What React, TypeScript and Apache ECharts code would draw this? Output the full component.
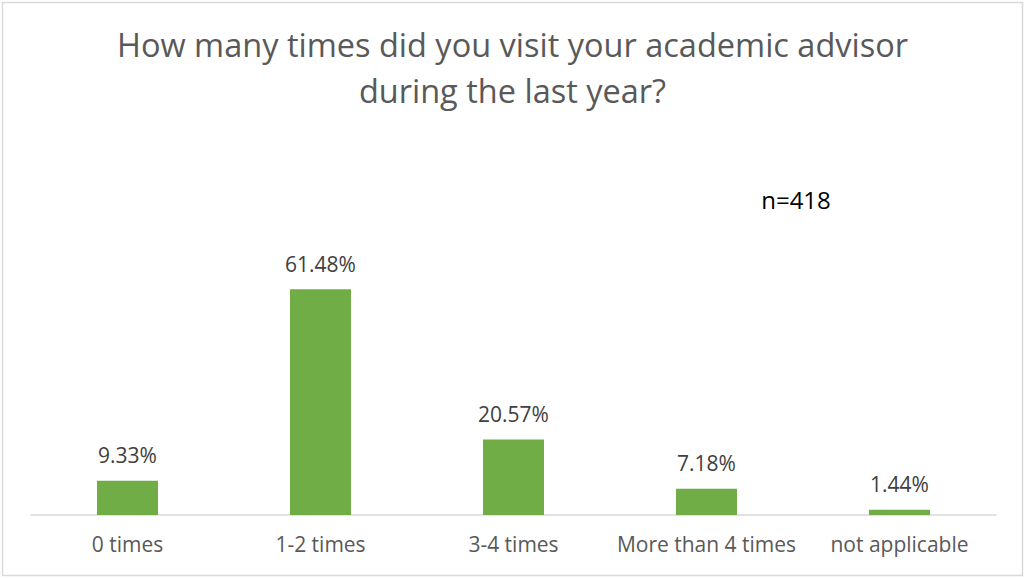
import React, { useEffect, useRef } from "react";
import * as echarts from "echarts";

const categories = ["0 times", "1-2 times", "3-4 times", "More than 4 times", "not applicable"];
const values = [9.33, 61.48, 20.57, 7.18, 1.44];
const titleText = "How many times did you visit your academic advisor\nduring the last year?";
const noteText = "n=418";

const FONT = "Open Sans";

export default function App() {
  const ref = useRef<HTMLDivElement>(null);
  useEffect(() => {
    const chart = echarts.init(ref.current!, null, { renderer: "svg" });
    chart.setOption({
      animation: false,
      backgroundColor: "#ffffff",
      title: {
        text: titleText,
        left: "center",
        top: 16,
        textStyle: {
          fontFamily: FONT,
          fontSize: 32.5,
          fontWeight: "normal",
          color: "#595959",
          lineHeight: 46,
        },
      },
      graphic: [
        {
          type: "rect",
          shape: { x: 2.5, y: 2.5, width: 1020, height: 573 },
          style: { fill: "none", stroke: "#d9d9d9", lineWidth: 1.5 },
          silent: true,
        },
        {
          type: "text",
          x: 796,
          y: 199,
          style: {
            text: noteText,
            fontFamily: FONT,
            fontSize: 24,
            fill: "#000000",
            align: "center",
            verticalAlign: "middle",
          },
        },
      ],
      grid: { left: 31, right: 29, top: 258, bottom: 63, containLabel: false },
      xAxis: {
        type: "category",
        data: categories,
        axisLine: { lineStyle: { color: "#d9d9d9", width: 1.5 } },
        axisTick: { show: false },
        axisLabel: {
          color: "#595959",
          fontFamily: FONT,
          fontSize: 21,
          margin: 18,
          interval: 0,
        },
      },
      yAxis: {
        type: "value",
        min: 0,
        max: 70,
        show: false,
        splitLine: { show: false },
      },
      series: [
        {
          type: "bar",
          data: values,
          barWidth: 61,
          itemStyle: { color: "#70ad47" },
          label: {
            show: true,
            position: "top",
            distance: 15,
            formatter: (p: any) => p.value.toFixed(2) + "%",
            color: "#404040",
            fontFamily: FONT,
            fontSize: 21,
          },
        },
      ],
    });
    return () => chart.dispose();
  }, []);
  return (
    <div
      ref={ref}
      style={{ position: "absolute", left: 0, top: 0, width: 1025, height: 578 }}
    />
  );
}
